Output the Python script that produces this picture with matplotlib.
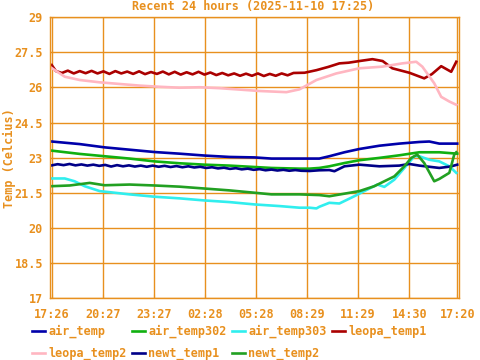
import matplotlib
matplotlib.use('Agg')
from matplotlib import pyplot as plt

ORANGE = '#e8901e'
FONT = 'DejaVu Sans Mono'

# hours since 17:26
tick_hours = [0, 3.017, 6.017, 9.033, 12.033, 15.05, 18.05, 21.067, 23.9]
tick_labels = ['17:26', '20:27', '23:27', '02:28', '05:28', '08:29', '11:29', '14:30', '17:20']
y_ticks = [17, 18.5, 20, 21.5, 23, 24.5, 26, 27.5, 29]
y_tick_labels = ['17', '18.5', '20', '21.5', '23', '24.5', '26', '27.5', '29']

air_temp_h = [0, 1.65, 3.12, 4.59, 6.06, 7.53, 9.0, 10.48, 11.95, 12.95, 14.6, 15.77,
              16.36, 17.25, 18.13, 19.31, 20.48, 21.66, 22.25, 22.84, 23.9]
air_temp = [23.69, 23.58, 23.44, 23.34, 23.24, 23.17, 23.09, 23.03, 23.01, 22.96, 22.96, 22.96,
            23.06, 23.23, 23.37, 23.51, 23.60, 23.67, 23.69, 23.60, 23.60]

air_temp302_h = [0, 1.65, 3.12, 4.59, 6.06, 7.53, 9.0, 10.48, 11.95, 12.95, 14.6, 15.19, 15.77,
                 16.36, 17.25, 18.13, 19.31, 20.48, 21.66, 22.84, 23.9]
air_temp302 = [23.30, 23.16, 23.06, 22.96, 22.84, 22.76, 22.70, 22.66, 22.60, 22.56, 22.53, 22.53, 22.56,
               22.63, 22.77, 22.89, 22.99, 23.10, 23.23, 23.23, 23.17]

air_temp303_h = [0, 0.77, 1.35, 1.94, 2.83, 3.71, 4.59, 6.06, 7.53, 9.0, 10.48, 11.95, 13.42, 14.6,
                 15.19, 15.6, 15.77, 16.36, 16.95, 17.83, 18.42, 19.19, 19.6, 20.19, 20.78, 21.37,
                 21.66, 22.25, 22.84, 23.43, 23.84]
air_temp303 = [22.11, 22.11, 21.99, 21.78, 21.57, 21.50, 21.43, 21.33, 21.26, 21.17, 21.10, 21.00, 20.93, 20.86,
               20.86, 20.83, 20.90, 21.07, 21.04, 21.35, 21.57, 21.85, 21.75, 22.06, 22.56, 23.06,
               23.06, 22.91, 22.84, 22.63, 22.35]

leopa_temp1_h = [0, 0.25, 0.6, 0.95, 1.3, 1.65, 2.0, 2.35, 2.7, 3.05, 3.4, 3.75, 4.1, 4.45, 4.8,
                 5.15, 5.5, 5.85, 6.2, 6.55, 6.9, 7.25, 7.6, 7.95, 8.3, 8.65, 9.0, 9.35, 9.7,
                 10.05, 10.4, 10.75, 11.1, 11.45, 11.8, 12.15, 12.5, 12.85, 13.2, 13.55, 13.9,
                 14.25, 14.9, 15.6, 16.3, 16.95, 17.5, 18.13, 18.9, 19.5, 20.07, 21.07, 21.95,
                 22.4, 22.95, 23.54, 23.84]
leopa_temp1 = [26.96, 26.70, 26.62, 26.72, 26.60, 26.70, 26.61, 26.71, 26.60, 26.69, 26.58, 26.70, 26.60, 26.68, 26.58,
               26.69, 26.57, 26.66, 26.58, 26.68, 26.56, 26.67, 26.55, 26.65, 26.56, 26.67, 26.55, 26.64, 26.53,
               26.62, 26.52, 26.60, 26.50, 26.59, 26.50, 26.60, 26.49, 26.58, 26.50, 26.60, 26.52,
               26.62, 26.63, 26.74, 26.88, 27.03, 27.06, 27.13, 27.21, 27.13, 26.82, 26.63, 26.39,
               26.57, 26.91, 26.67, 27.10]

leopa_temp2_h = [0, 0.77, 1.65, 2.83, 4.0, 5.18, 6.36, 7.53, 8.71, 9.89, 11.07, 12.24, 13.83,
                 14.6, 15.6, 16.77, 18.13, 19.48, 20.66, 21.48, 21.84, 22.54, 22.95, 23.43, 23.84]
leopa_temp2 = [26.83, 26.46, 26.32, 26.22, 26.15, 26.08, 26.03, 25.99, 26.01, 25.97, 25.91, 25.85, 25.80,
               25.92, 26.32, 26.60, 26.82, 26.89, 27.03, 27.10, 26.89, 26.18, 25.60, 25.40, 25.26]

newt_temp1_h = [0, 0.35, 0.7, 1.05, 1.4, 1.75, 2.1, 2.45, 2.8, 3.15, 3.5, 3.85, 4.2, 4.55, 4.9,
                5.25, 5.6, 5.95, 6.3, 6.65, 7.0, 7.35, 7.7, 8.05, 8.4, 8.75, 9.1, 9.45, 9.8,
                10.15, 10.5, 10.85, 11.2, 11.55, 11.9, 12.25, 12.6, 12.95, 13.3, 13.65, 14.0,
                14.35, 14.7, 15.2, 15.77, 16.36, 16.66, 17.25, 18.13, 19.31, 20.48, 21.07,
                21.66, 22.84, 23.5, 23.9]
newt_temp1 = [22.67, 22.72, 22.68, 22.73, 22.67, 22.71, 22.66, 22.70, 22.65, 22.69, 22.62, 22.68, 22.63, 22.67, 22.62,
              22.66, 22.61, 22.66, 22.61, 22.65, 22.60, 22.64, 22.59, 22.63, 22.58, 22.61, 22.56, 22.59, 22.54,
              22.57, 22.52, 22.55, 22.50, 22.53, 22.48, 22.51, 22.46, 22.49, 22.45, 22.48, 22.44,
              22.47, 22.44, 22.43, 22.46, 22.47, 22.42, 22.63, 22.70, 22.63, 22.66, 22.73,
              22.66, 22.56, 22.62, 22.70]

newt_temp2_h = [0, 1.06, 2.24, 3.12, 4.59, 6.06, 7.53, 9.0, 10.48, 11.95, 12.95, 14.6, 15.77,
                16.36, 17.25, 18.13, 19.01, 19.6, 20.19, 20.78, 21.19, 21.54, 21.95, 22.54,
                22.84, 23.43, 23.72, 23.84]
newt_temp2 = [21.78, 21.81, 21.92, 21.82, 21.85, 21.81, 21.76, 21.68, 21.60, 21.50, 21.43, 21.43, 21.40,
              21.35, 21.46, 21.57, 21.78, 21.99, 22.20, 22.63, 22.99, 23.13, 22.77, 21.99,
              22.09, 22.35, 23.13, 23.23]

series = [
    ('air_temp', air_temp_h, air_temp, '#0000aa'),
    ('air_temp302', air_temp302_h, air_temp302, '#10b010'),
    ('air_temp303', air_temp303_h, air_temp303, '#30eeee'),
    ('leopa_temp1', leopa_temp1_h, leopa_temp1, '#aa0000'),
    ('leopa_temp2', leopa_temp2_h, leopa_temp2, '#ffb6c1'),
    ('newt_temp1', newt_temp1_h, newt_temp1, '#000088'),
    ('newt_temp2', newt_temp2_h, newt_temp2, '#22a022'),
]

fig = plt.figure(figsize=(4.8, 3.6), dpi=100)
ax = fig.add_axes([50 / 480, 1 - 298 / 360, 409 / 480, 280.7 / 360])

lines = {}
for name, h, t, c in series:
    ln, = ax.plot(h, t, color=c, lw=1.9, label=name, solid_joinstyle='round')
    lines[name] = ln

ax.set_xlim(-0.1, 24.0)
ax.set_ylim(17, 29)
ax.set_xticks(tick_hours)
ax.set_xticklabels(tick_labels)
ax.set_yticks(y_ticks)
ax.set_yticklabels(y_tick_labels)
ax.grid(True, color=ORANGE, lw=1.0)
ax.set_axisbelow(True)
for sp in ax.spines.values():
    sp.set_color(ORANGE)
    sp.set_linewidth(1.0)
ax.tick_params(colors=ORANGE, direction='in', length=3, labelsize=8.5)
ax.tick_params(axis='x', pad=7)
ax.tick_params(axis='y', pad=5)
for lab in ax.get_xticklabels() + ax.get_yticklabels():
    lab.set_fontfamily(FONT)
    lab.set_fontweight('bold')
    lab.set_color(ORANGE)

fig.text(9 / 480, 1 - 158 / 360, 'Temp (Celcius)', rotation=90, ha='center', va='center',
         color=ORANGE, fontsize=8.5, family=FONT, fontweight='bold')
fig.text(0.527, 0.982, 'Recent 24 hours (2025-11-10 17:25)', ha='center', va='center',
         color=ORANGE, fontsize=8.5, family=FONT, fontweight='bold')

order = ['air_temp', 'leopa_temp2', 'air_temp302', 'newt_temp1', 'air_temp303', 'newt_temp2', 'leopa_temp1']
leg = fig.legend([lines[n] for n in order], order, ncol=4, loc='upper left',
                 bbox_to_anchor=(32 / 480, 1 - 325 / 360), frameon=False,
                 prop={'family': FONT, 'weight': 'bold', 'size': 8.5},
                 labelcolor=ORANGE, handlelength=1.1, handletextpad=0.3,
                 columnspacing=0.42, labelspacing=0.72, borderpad=0, borderaxespad=0)

fig.savefig('out.png', dpi=100)
